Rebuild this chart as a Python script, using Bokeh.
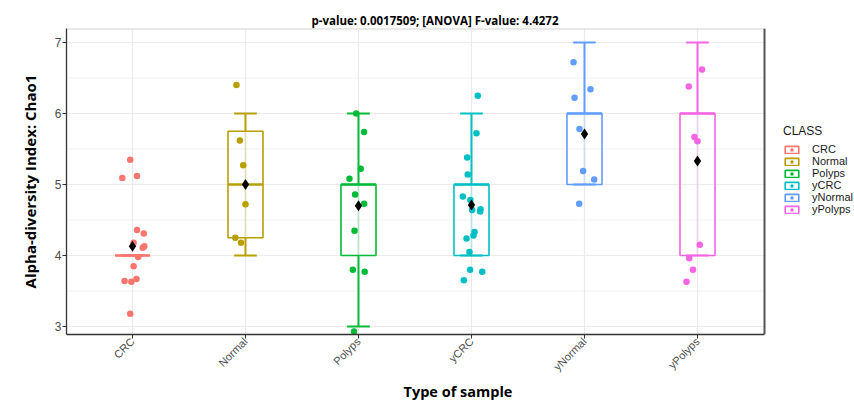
from math import pi
from bokeh.plotting import figure
from bokeh.models import (ColumnDataSource, FixedTicker, Legend, LegendItem, Title)
from bokeh.embed import file_html
from bokeh.resources import INLINE

# ---------------- data ----------------
categories = ["CRC", "Normal", "Polyps", "yCRC", "yNormal", "yPolyps"]
colors = ["#F8766D", "#B79F00", "#00BA38", "#00BFC4", "#619CFF", "#F564E3"]

box_lower = [4, 4, 3, 4, 5, 4]
box_q1 = [4, 4.25, 4, 4, 5, 4]
box_median = [4, 5, 5, 5, 6, 6]
box_q3 = [4, 5.75, 5, 5, 6, 6]
box_upper = [4, 6, 6, 6, 7, 7]
group_means = [4.13, 5.0, 4.70, 4.71, 5.71, 5.33]

crc_values = [5.35, 5.09, 5.12, 4.36, 4.31, 4.18, 4.13, 4.11, 3.98, 3.85, 3.64, 3.63, 3.67, 3.18]
crc_jitter = [-0.02, -0.09, 0.04, 0.04, 0.10, 0.01, 0.105, 0.09, 0.05, 0.01, -0.07, -0.01, 0.035, -0.02]

normal_values = [6.40, 5.62, 5.27, 4.72, 4.25, 4.18]
normal_jitter = [-0.08, -0.05, -0.02, 0.0, -0.09, -0.04]

polyps_values = [6.00, 5.74, 5.22, 5.08, 4.86, 4.73, 4.35, 3.80, 3.77, 2.93]
polyps_jitter = [-0.02, 0.05, 0.02, -0.08, -0.03, 0.05, -0.035, -0.05, 0.055, -0.04]

ycrc_values = [6.25, 5.72, 5.38, 5.14, 4.83, 4.78, 4.64, 4.65, 4.62, 4.33, 4.28, 4.24, 4.05, 3.80, 3.77, 3.65]
ycrc_jitter = [0.056, 0.044, -0.038, -0.033, -0.077, -0.01, 0.006, 0.08, 0.077, 0.027, 0.018, -0.044, -0.018, -0.012, 0.095, -0.068]

ynormal_values = [6.72, 6.34, 6.22, 5.78, 5.19, 5.07, 4.73]
ynormal_jitter = [-0.097, 0.053, -0.088, -0.044, -0.012, 0.086, -0.047]

ypolyps_values = [6.62, 6.38, 5.67, 5.61, 4.15, 3.96, 3.80, 3.63]
ypolyps_jitter = [0.04, -0.077, -0.027, 0.0, 0.02, -0.073, -0.04, -0.097]

group_values = [crc_values, normal_values, polyps_values, ycrc_values, ynormal_values, ypolyps_values]
group_jitter = [crc_jitter, normal_jitter, polyps_jitter, ycrc_jitter, ynormal_jitter, ypolyps_jitter]

y_ticks = [3, 4, 5, 6, 7]
y_minor = [3.5, 4.5, 5.5, 6.5]

# ---------------- figure ----------------
LEFT_PX = 66
PX_PER_X = 113.0
X_START, PANEL_END = 0.416, 6.593
X_END = X_START + (854 - LEFT_PX) / PX_PER_X
Y_START, Y_END = 2.887, 7.197

p = figure(width=854, height=400, x_range=(X_START, X_END), y_range=(Y_START, Y_END),
           output_backend="svg", toolbar_location=None,
           min_border_left=LEFT_PX, min_border_right=0, min_border_top=28, min_border_bottom=60)
p.background_fill_color = "white"
p.border_fill_color = "white"
p.outline_line_color = None
p.xgrid.visible = False
p.ygrid.visible = False

p.title.text = "p-value: 0.0017509; [ANOVA] F-value: 4.4272"
p.title.align = "left"
p.title.offset = 245
p.title.text_font = "Open Sans"
p.title.text_font_style = "bold"
p.title.text_font_size = "11.5px"
p.title.text_color = "black"
p.title.standoff = 2

# panel grid & border (restricted to the plotting panel)
grid_h = ColumnDataSource(dict(x0=[X_START] * len(y_ticks), x1=[PANEL_END] * len(y_ticks), y=y_ticks))
grid_hm = ColumnDataSource(dict(x0=[X_START] * len(y_minor), x1=[PANEL_END] * len(y_minor), y=y_minor))
xt = list(range(1, len(categories) + 1))
grid_v = ColumnDataSource(dict(x=xt, y0=[Y_START] * len(xt), y1=[Y_END] * len(xt)))
p.segment(x0="x0", y0="y", x1="x1", y1="y", source=grid_hm, line_color="#F3F3F3", line_width=1, level="underlay")
p.segment(x0="x0", y0="y", x1="x1", y1="y", source=grid_h, line_color="#EBEBEB", line_width=1.2, level="underlay")
p.segment(x0="x", y0="y0", x1="x", y1="y1", source=grid_v, line_color="#EBEBEB", line_width=1.2, level="underlay")
p.segment(x0=[X_START], y0=[Y_END], x1=[PANEL_END], y1=[Y_END], line_color="#D4D4D4", line_width=2)
p.segment(x0=[PANEL_END], y0=[Y_START], x1=[PANEL_END], y1=[Y_END], line_color="#555555", line_width=2)

box_half = 0.155
cap_half = 0.1
legend_items = []
for i, cat in enumerate(categories):
    xc = i + 1
    col = colors[i]
    stats = ColumnDataSource(dict(
        x=[xc], left=[xc - box_half], right=[xc + box_half],
        lo=[box_lower[i]], q1=[box_q1[i]], med=[box_median[i]],
        q3=[box_q3[i]], hi=[box_upper[i]],
        capl=[xc - cap_half], capr=[xc + cap_half], mean=[group_means[i]]))
    p.segment(x0="x", y0="lo", x1="x", y1="q1", source=stats, line_color=col, line_width=2)
    p.segment(x0="x", y0="q3", x1="x", y1="hi", source=stats, line_color=col, line_width=2)
    p.segment(x0="x", y0="q1", x1="x", y1="q3", source=stats, line_color=col, line_width=2, line_alpha=0.2)
    p.segment(x0="capl", y0="lo", x1="capr", y1="lo", source=stats, line_color=col, line_width=2)
    p.segment(x0="capl", y0="hi", x1="capr", y1="hi", source=stats, line_color=col, line_width=2)
    box_r = p.quad(left="left", right="right", bottom="q1", top="q3", source=stats,
                   fill_color=None, line_color=col, line_width=1.6)
    p.segment(x0="left", y0="med", x1="right", y1="med", source=stats, line_color=col, line_width=2.6)

    pts = ColumnDataSource(dict(
        x=[xc + j for j in group_jitter[i]], y=group_values[i]))
    pt_r = p.scatter(x="x", y="y", source=pts, size=6.5, fill_color=col, line_color=None)
    p.scatter(x="x", y="mean", source=stats, marker="diamond", size=11,
              fill_color="black", line_color=None)
    legend_items.append(LegendItem(label=cat, renderers=[box_r, pt_r]))

# ---------------- axes ----------------
p.xaxis.ticker = FixedTicker(ticks=xt)
p.xaxis.major_label_overrides = {i + 1: c for i, c in enumerate(categories)}
p.xaxis.major_label_orientation = pi / 4
p.xaxis.bounds = (X_START, PANEL_END)
p.yaxis.ticker = FixedTicker(ticks=y_ticks, minor_ticks=y_minor)

for ax in (p.xaxis[0], p.yaxis[0]):
    ax.axis_line_color = "#333333"
    ax.axis_line_width = 1.3
    ax.major_tick_line_color = "#333333"
    ax.major_tick_out = 4
    ax.major_tick_in = 0
    ax.minor_tick_line_color = None
    ax.major_label_text_color = "#4D4D4D"
    ax.major_label_text_font = "Liberation Sans"
    ax.major_label_standoff = 1
p.xaxis.major_label_text_font_size = "11px"
p.yaxis.major_label_text_font_size = "12px"

p.yaxis.axis_label = "Alpha-diversity Index: Chao1"
p.yaxis.axis_label_text_font = "Open Sans"
p.yaxis.axis_label_text_font_style = "bold"
p.yaxis.axis_label_text_font_size = "15px"
p.yaxis.axis_label_text_color = "black"
p.yaxis.axis_label_standoff = 12

p.add_layout(Title(text="Type of sample", align="left", offset=337,
                   text_font="Open Sans", text_font_style="bold",
                   text_font_size="14.5px", text_color="black", standoff=0,
                   text_line_height=0.5), "below")

legend = Legend(items=legend_items, location=(717, 119), title="CLASS")
legend.title_text_font = "Liberation Sans"
legend.title_text_font_size = "12px"
legend.title_text_font_style = "normal"
legend.title_text_color = "#1A1A1A"
legend.title_standoff = 5
legend.label_text_font = "Liberation Sans"
legend.label_text_font_size = "11px"
legend.label_text_color = "#1A1A1A"
legend.glyph_width = 17
legend.glyph_height = 9
legend.label_height = 9
legend.spacing = 0
legend.padding = 0
legend.margin = 0
legend.label_standoff = 12
legend.border_line_color = None
legend.background_fill_alpha = 0
p.add_layout(legend, "center")

open("out.html", "w").write(file_html(p, INLINE))
